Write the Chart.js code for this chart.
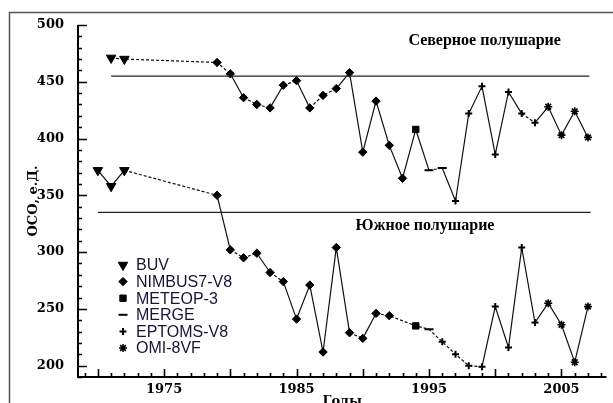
<!DOCTYPE html>
<html>
<head>
<meta charset="utf-8">
<script src="https://cdn.jsdelivr.net/npm/chart.js@4.4.1/dist/chart.umd.min.js"></script>
<style>
  html, body { margin: 0; padding: 0; background: #fff; }
  #wrap { position: relative; width: 613px; height: 403px; }
</style>
</head>
<body>
<div id="wrap"><canvas id="ozoneChart" width="613" height="403"></canvas></div>
<script>
// Годы и значения ОСО (е.Д.) — Северное полушарие
const northYears = [1971, 1972, 1979, 1980, 1981, 1982, 1983, 1984, 1985, 1986, 1987, 1988, 1989,
  1990, 1991, 1992, 1993, 1994, 1995, 1996, 1997, 1998, 1999, 2000, 2001, 2002, 2003, 2004, 2005, 2006, 2007];
const northValues = [471, 470, 467, 457, 436, 430, 427, 447, 451, 427, 438, 444, 458,
  388, 433, 394, 365, 408, 372, 374, 345, 422, 446, 386, 441, 422, 414, 428, 403, 424, 401];
const northSource = ["BUV", "BUV", "NIMBUS", "NIMBUS", "NIMBUS", "NIMBUS", "NIMBUS", "NIMBUS", "NIMBUS", "NIMBUS", "NIMBUS", "NIMBUS", "NIMBUS",
  "NIMBUS", "NIMBUS", "NIMBUS", "NIMBUS", "METEOR", "MERGE", "MERGE", "EPTOMS", "EPTOMS", "EPTOMS", "EPTOMS", "EPTOMS", "EPTOMS", "EPTOMS", "OMI", "OMI", "OMI", "OMI"];

// Южное полушарие
const southYears = [1970, 1971, 1972, 1979, 1980, 1981, 1982, 1983, 1984, 1985, 1986, 1987, 1988, 1989,
  1990, 1991, 1992, 1994, 1995, 1996, 1997, 1998, 1999, 2000, 2001, 2002, 2003, 2004, 2005, 2006, 2007];
const southValues = [372, 358, 372, 350, 302, 295, 299, 282, 274, 241, 271, 212, 304, 229,
  224, 246, 244, 235, 232, 221, 210, 200, 199, 252, 216, 304, 238, 255, 236, 203, 252];
const southSource = ["BUV", "BUV", "BUV", "NIMBUS", "NIMBUS", "NIMBUS", "NIMBUS", "NIMBUS", "NIMBUS", "NIMBUS", "NIMBUS", "NIMBUS", "NIMBUS", "NIMBUS",
  "NIMBUS", "NIMBUS", "NIMBUS", "METEOR", "MERGE", "EPTOMS", "EPTOMS", "EPTOMS", "EPTOMS", "EPTOMS", "EPTOMS", "EPTOMS", "EPTOMS", "OMI", "OMI", "OMI", "OMI"];

// средние уровни (горизонтальные линии)
const northMean = 455;
const southMean = 335;
const northMeanSpan = [1971, 2007.1];
const southMeanSpan = [1970, 2007.2];

// легенда: источники данных
const sourceKeys = ["BUV", "NIMBUS", "METEOR", "MERGE", "EPTOMS", "OMI"];
const sourceLabels = ["BUV", "NIMBUS7-V8", "METEOP-3", "MERGE", "EPTOMS-V8", "OMI-8VF"];

// вид маркера для каждого источника
const markerStyle = {
  BUV: { style: "triangle", radius: 5.5, rotation: 180, width: 1 },
  NIMBUS: { style: "rectRot", radius: 4.2, rotation: 0, width: 1 },
  METEOR: { style: "rect", radius: 4.5, rotation: 0, width: 1 },
  MERGE: { style: "line", radius: 4.5, rotation: 0, width: 2 },
  EPTOMS: { style: "cross", radius: 3.5, rotation: 0, width: 2 },
  OMI: { style: "star", radius: 4, rotation: 0, width: 1.6 },
};

const toPoints = (xs, ys) => xs.map((x, i) => ({ x: x, y: ys[i] }));

function seriesDataset(label, xs, ys, src) {
  return {
    label: label,
    data: toPoints(xs, ys),
    borderColor: "#111",
    backgroundColor: "#111",
    borderWidth: 1.2,
    tension: 0,
    pointStyle: src.map(s => markerStyle[s].style),
    pointRadius: src.map(s => markerStyle[s].radius),
    pointRotation: src.map(s => markerStyle[s].rotation),
    pointBorderWidth: src.map(s => markerStyle[s].width),
    pointBorderColor: "#000",
    pointBackgroundColor: "#000",
    // пологие участки на рисунке выглядят пунктиром
    segment: {
      borderDash: ctx => {
        const dx = Math.abs(ctx.p1.x - ctx.p0.x);
        const dy = Math.abs(ctx.p1.y - ctx.p0.y);
        return dy / dx < 1.1 ? [3, 2] : undefined;
      },
    },
  };
}

function meanDataset(value, span) {
  return {
    label: "mean",
    data: [{ x: span[0], y: value }, { x: span[1], y: value }],
    borderColor: "#222",
    borderWidth: 1.3,
    pointRadius: 0,
  };
}

// рамка, засечки внутрь, подписи полушарий и легенда
const decorPlugin = {
  id: "decor",
  beforeDraw(chart) {
    const ctx = chart.ctx;
    ctx.save();
    ctx.strokeStyle = "#555";
    ctx.lineWidth = 1.5;
    ctx.beginPath();
    ctx.moveTo(9.5, chart.height);
    ctx.lineTo(9.5, 12.5);
    ctx.lineTo(chart.width, 12.5);
    ctx.stroke();
    ctx.restore();
  },
  afterDraw(chart) {
    const ctx = chart.ctx;
    const xs = chart.scales.x, ys = chart.scales.y;
    const area = chart.chartArea;
    ctx.save();
    ctx.strokeStyle = "#000";
    // оси
    ctx.lineWidth = 2;
    ctx.beginPath();
    ctx.moveTo(area.left, area.top);
    ctx.lineTo(area.left, area.bottom);
    ctx.lineTo(area.right, area.bottom);
    ctx.stroke();
    // засечки
    ctx.lineWidth = 1.6;
    ctx.beginPath();
    xs.ticks.forEach(t => {
      if (!Number.isInteger(t.value)) return;
      const px = Math.round(xs.getPixelForValue(t.value)) + 0.5;
      const len = t.value % 5 === 0 ? 8 : 4;
      ctx.moveTo(px, area.bottom);
      ctx.lineTo(px, area.bottom - len);
    });
    ys.ticks.forEach(t => {
      const py = Math.round(ys.getPixelForValue(t.value)) + 0.5;
      const len = t.value % 50 === 0 ? 9 : 4;
      ctx.moveTo(area.left, py);
      ctx.lineTo(area.left + len, py);
    });
    ctx.stroke();

    // подписи полушарий
    ctx.fillStyle = "#000";
    ctx.font = "bold 16px 'Liberation Serif'";
    ctx.textAlign = "center";
    ctx.textBaseline = "middle";
    ctx.fillText("Северное полушарие", xs.getPixelForValue(1999.2), ys.getPixelForValue(486));
    ctx.fillText("Южное полушарие", xs.getPixelForValue(1994.7), ys.getPixelForValue(323));

    // легенда
    const lx = area.left + 45, ly = area.top + 240, step = 16.6;
    ctx.font = "16px 'Liberation Sans'";
    ctx.textAlign = "left";
    sourceKeys.forEach((key, i) => {
      const m = markerStyle[key];
      const y = ly + i * step;
      ctx.fillStyle = "#000";
      ctx.strokeStyle = "#000";
      ctx.lineWidth = m.width;
      Chart.helpers.drawPoint(ctx, { pointStyle: m.style, radius: m.radius, rotation: m.rotation, borderWidth: m.width }, lx, y);
      ctx.fillStyle = "#15153a";
      ctx.fillText(sourceLabels[i], lx + 13, y + 1);
    });
    ctx.restore();
  },
};

const tickFont = { family: "'DejaVu Serif'", size: 13, weight: "bold" };

new Chart(document.getElementById("ozoneChart"), {
  type: "line",
  data: {
    datasets: [
      meanDataset(northMean, northMeanSpan),
      meanDataset(southMean, southMeanSpan),
      seriesDataset("north", northYears, northValues, northSource),
      seriesDataset("south", southYears, southValues, southSource),
    ],
  },
  options: {
    responsive: false,
    animation: false,
    layout: { padding: { left: 10, top: 25, right: 1, bottom: 0 } },
    plugins: {
      legend: { display: false },
      tooltip: { enabled: false },
    },
    scales: {
      x: {
        type: "linear",
        min: 1968.5,
        max: 2008.4,
        grid: { display: false },
        border: { display: false },
        ticks: {
          stepSize: 1,
          includeBounds: false,
          autoSkip: false,
          maxRotation: 0,
          padding: -3,
          color: "#000",
          font: tickFont,
          callback: v => ((v - 1975) % 10 === 0 ? String(v) : ""),
        },
        title: {
          display: true,
          text: "Годы",
          color: "#000",
          font: { family: "'DejaVu Serif'", size: 13, weight: "bold" },
          padding: { top: 0, bottom: -6 },
        },
        afterFit: s => { s.height = 26; },
      },
      y: {
        min: 190,
        max: 500,
        grid: { display: false },
        border: { display: false },
        ticks: {
          stepSize: 10,
          includeBounds: false,
          autoSkip: false,
          padding: 6,
          color: "#000",
          font: tickFont,
          callback: v => (v % 50 === 0 ? String(v) : ""),
        },
        title: {
          display: true,
          text: "ОСО, е.Д.",
          color: "#000",
          font: { family: "'DejaVu Serif'", size: 13, weight: "bold" },
          padding: { top: 16, bottom: 0 },
        },
        afterFit: s => { s.width = 68; },
      },
    },
  },
  plugins: [decorPlugin],
});
</script>
</body>
</html>
